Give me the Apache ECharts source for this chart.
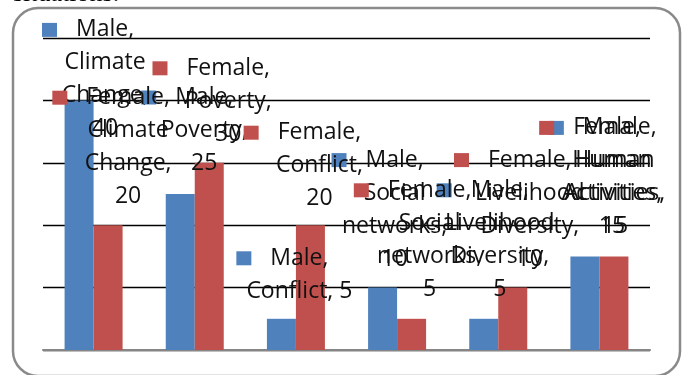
<!DOCTYPE html>
<html>
<head>
<meta charset="utf-8">
<script src="https://cdn.jsdelivr.net/npm/echarts@6/dist/echarts.min.js"></script>
<style>
  html, body { margin: 0; padding: 0; background: #fff; }
  #chart { width: 686px; height: 375px; }
</style>
</head>
<body>
<div id="chart"></div>
<script>
// categories and values
var categories = ['Climate Change', 'Poverty', 'Conflict', 'Social networks', 'Livelihood Diversity', 'Human Activities'];
var maleValues = [40, 25, 5, 10, 5, 15];
var femaleValues = [20, 30, 20, 5, 10, 15];

// where each data label sits, relative to the top of its bar (the excel labels are all over the place)
var maleLabelOffset = [[26, -87], [24, -113], [18, -77], [12, -144], [16, -145], [27, -145]];
var femaleLabelOffset = [[20, -144], [19, -111], [9, -109], [18, -145], [17, -144], [1, -145]];
// labels whose value shares the line with the category (wrapping only)
var maleInline = [false, false, true, false, false, false];
var femaleInline = [false, false, false, false, false, false];

var blue = '#4F81BD', red = '#C0504D';
var font = '"Open Sans", "Noto Sans", sans-serif';

var chart = echarts.init(document.getElementById('chart'));

function labelText(p) {
    var words = p.name.split(' ');
    var inline = (p.seriesIndex == 0 ? maleInline : femaleInline)[p.dataIndex];
    var lines = ['{sq|}{g|}{t|' + p.seriesName + ',}{p|}'];
    for (var i = 0; i < words.length; i++) {
        var last = i == words.length - 1;
        lines.push('{t|' + words[i] + (last ? ',' : '') + (last && inline ? ' ' + p.value : '') + '}');
    }
    if (!inline) lines.push('{t|' + p.value + '}');
    return lines.join('\n');
}

function rich(color) {
    return {
        sq: { width: 15, height: 14, backgroundColor: color, lineHeight: 33 },
        g: { width: 19, lineHeight: 33 },
        p: { width: 34, lineHeight: 33 },
        t: { fontSize: 23, fontFamily: font, color: '#111', lineHeight: 33 }
    };
}

function buildData(values, offsets) {
    return values.map(function (v, i) {
        return { value: v, label: { offset: offsets[i] } };
    });
}

var option = {
    animation: false,
    backgroundColor: '#fff',
    grid: { left: 43, right: 36, top: 38, bottom: 25 },
    xAxis: {
        type: 'category',
        data: categories,
        axisLine: { lineStyle: { color: '#868686', width: 2 } },
        axisTick: { show: false },
        axisLabel: { show: false }
    },
    yAxis: {
        type: 'value',
        min: 0,
        max: 50,
        interval: 10,
        axisLabel: { show: false },
        axisLine: { show: false },
        axisTick: { show: false },
        splitLine: { lineStyle: { color: '#000', width: 1.3 } }
    },
    graphic: [
        {
            type: 'rect',
            z: -1,
            shape: { x: 13, y: 8, width: 667, height: 368, r: 25 },
            style: { fill: 'none', stroke: '#8a8a8a', lineWidth: 2.5 }
        },
        {
            type: 'text',
            left: 13,
            top: -19,
            style: { text: 'situations.', font: '26px "Liberation Serif", serif', fill: '#000' }
        }
    ],
    series: [
        {
            name: 'Male',
            type: 'bar',
            barWidth: 29,
            barGap: 0,
            itemStyle: { color: blue },
            data: buildData(maleValues, maleLabelOffset),
            label: {
                show: true,
                position: ['50%', 0],
                align: 'center',
                verticalAlign: 'top',
                formatter: labelText,
                rich: rich(blue)
            }
        },
        {
            name: 'Female',
            type: 'bar',
            barWidth: 29,
            barGap: 0,
            itemStyle: { color: red },
            data: buildData(femaleValues, femaleLabelOffset),
            label: {
                show: true,
                position: ['50%', 0],
                align: 'center',
                verticalAlign: 'top',
                formatter: labelText,
                rich: rich(red)
            }
        }
    ]
};

chart.setOption(option);
</script>
</body>
</html>
